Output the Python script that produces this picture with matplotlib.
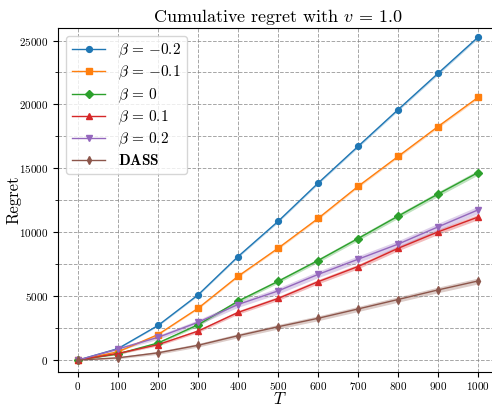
import numpy as np
import matplotlib
matplotlib.use("Agg")
import matplotlib.pyplot as plt
from matplotlib.ticker import MultipleLocator

plt.rcParams['font.family'] = 'serif'
plt.rcParams['font.serif'] = ['cmr10']
plt.rcParams['mathtext.fontset'] = 'cm'
plt.rcParams['axes.unicode_minus'] = False
plt.rcParams['axes.formatter.use_mathtext'] = True

# rounds T (markers every 100)
T = [0, 100, 200, 300, 400, 500, 600, 700, 800, 900, 1000]

# mean cumulative regret per setting
reg_m02 = [0, 900, 2710, 5100, 8100, 10850, 13840, 16720, 19590, 22430, 25260]
reg_m01 = [0, 650, 2000, 4050, 6560, 8750, 11080, 13590, 15930, 18270, 20550]
reg_0 = [0, 490, 1340, 2760, 4610, 6160, 7790, 9510, 11260, 12990, 14670]
reg_01 = [0, 520, 1210, 2270, 3730, 4820, 6130, 7320, 8740, 10030, 11190]
reg_02 = [0, 870, 1780, 2960, 4350, 5410, 6700, 7890, 9070, 10420, 11750]
reg_dass = [0, 180, 570, 1160, 1910, 2610, 3270, 4000, 4740, 5490, 6190]

# half width of the shaded bands
band_m02 = [0, 40, 60, 70, 80, 90, 90, 100, 100, 110, 110]
band_m01 = [0, 40, 60, 70, 80, 90, 90, 100, 100, 110, 110]
band_0 = [0, 60, 90, 110, 130, 140, 150, 160, 170, 180, 190]
band_01 = [0, 70, 100, 120, 140, 160, 170, 180, 190, 200, 210]
band_02 = [0, 110, 160, 190, 220, 240, 250, 260, 270, 280, 290]
band_dass = [0, 80, 120, 140, 160, 180, 190, 200, 210, 220, 230]

series = [
    (r'$\beta\,=\,{-0.2}$', reg_m02, band_m02, 'C0', 'o', 4.2),
    (r'$\beta\,=\,{-0.1}$', reg_m01, band_m01, 'C1', 's', 4.2),
    (r'$\beta\,=\,0$', reg_0, band_0, 'C2', 'D', 3.8),
    (r'$\beta\,=\,0.1$', reg_01, band_01, 'C3', '^', 4.2),
    (r'$\beta\,=\,0.2$', reg_02, band_02, 'C4', 'v', 4.2),
    (r'$\mathbf{DASS}$', reg_dass, band_dass, 'C5', 'd', 4),
]

fig = plt.figure(figsize=(4.92, 4.07), dpi=100)
ax = fig.add_axes([58 / 492, 35 / 407, 440 / 492, 344 / 407])

x = np.array(T)
for label, m, b, c, mk, ms in series:
    m = np.array(m, dtype=float)
    b = np.array(b, dtype=float)
    ax.plot(x, m, color=c, marker=mk, markersize=ms, lw=1.0, label=label)
    ax.fill_between(x, m - b, m + b, color=c, alpha=0.3, lw=0)

ax.set_xlim(-50, 1050)
ax.set_ylim(-930, 25980)
ax.xaxis.set_major_locator(MultipleLocator(100))
ax.yaxis.set_major_locator(MultipleLocator(5000))
ax.yaxis.set_minor_locator(MultipleLocator(2500))
ax.tick_params(labelsize=8)
ax.tick_params(axis='x', pad=2.5)
ax.grid(True, which='both', linestyle='--', color='gray', alpha=0.7, lw=0.7)

ax.set_xlabel('T', fontfamily='cmmi10', fontsize=12, va='top')
ax.xaxis.set_label_coords(0.5, -0.056)
ax.set_ylabel('Regret', fontsize=12, labelpad=-2)
ax.set_title(r'Cumulative regret with $v\,=\,1.0$', fontsize=13, pad=4)
ax.legend(loc='upper left', fontsize=11, labelspacing=0.25, handlelength=2.2)

fig.savefig('out.png', dpi=100)
